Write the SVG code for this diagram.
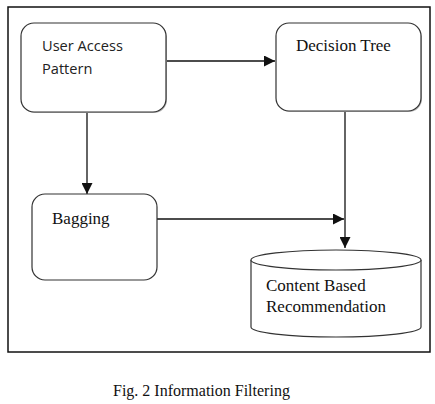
<svg xmlns="http://www.w3.org/2000/svg" width="435" height="404" viewBox="0 0 435 404">
<style>
.box{fill:#fff;stroke:#333;stroke-width:1.2}
.sans{font-family:"Open Sans","Liberation Sans",sans-serif;font-size:14.6px;fill:#222}
.serif{font-family:"Liberation Serif",serif;font-size:17px;fill:#111}
.conn{stroke:#111;stroke-width:1.3;fill:none}
</style>
<defs>
<marker id="ahb" viewBox="0 0 10 10" refX="10" refY="5" markerWidth="11" markerHeight="11" markerUnits="userSpaceOnUse" orient="auto">
<path d="M0,0 L10,5 L0,10 z" fill="#111"/>
</marker>
</defs>
<rect x="8" y="7" width="422" height="345" fill="#fff" stroke="#111" stroke-width="1.5"/>
<g id="connectors">
<line class="conn" x1="166" y1="61" x2="275" y2="61" marker-end="url(#ahb)"/>
<line class="conn" x1="87" y1="112" x2="87" y2="194" marker-end="url(#ahb)"/>
<line class="conn" x1="345" y1="111" x2="345" y2="248" marker-end="url(#ahb)"/>
<line class="conn" x1="157" y1="219" x2="344" y2="219" marker-end="url(#ahb)"/>
</g>
<g id="user-access">
<rect x="22" y="24" width="145" height="89" rx="13" fill="#bbb"/>
<rect class="box" x="21" y="23" width="145" height="89" rx="13"/>
<text class="sans" x="42" y="51">User Access</text>
<text class="sans" x="42" y="74">Pattern</text>
</g>
<g id="decision-tree">
<rect x="277" y="24" width="145" height="88" rx="13" fill="#bbb"/>
<rect class="box" x="276" y="23" width="145" height="88" rx="13"/>
<text class="serif" x="296" y="51">Decision Tree</text>
</g>
<g id="bagging">
<rect class="box" x="32" y="194" width="125" height="86" rx="13"/>
<text class="serif" x="52" y="224">Bagging</text>
</g>
<g id="content-based">
<path class="box" d="M251,260 L251,327 A85,10 0 0 0 421,327 L421,260"/>
<ellipse class="box" cx="336" cy="260" rx="85" ry="10"/>
<text class="serif" x="266" y="291">Content Based</text>
<text class="serif" x="266" y="312">Recommendation</text>
</g>
<text class="serif" x="113" y="396" style="font-size:16px">Fig. 2 Information Filtering</text>
</svg>
